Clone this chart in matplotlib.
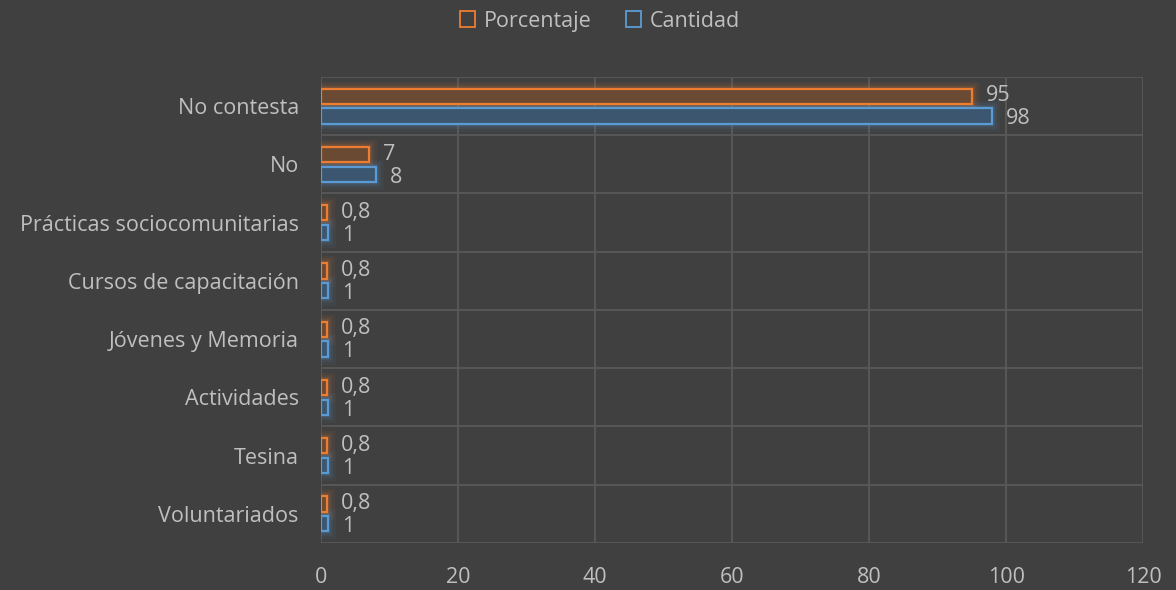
import matplotlib.pyplot as plt
import numpy as np
from matplotlib.patches import Patch

categorias = ["No contesta", "No", "Prácticas sociocomunitarias", "Cursos de capacitación",
              "Jóvenes y Memoria", "Actividades", "Tesina", "Voluntariados"]
porcentaje = [95, 7, 0.8, 0.8, 0.8, 0.8, 0.8, 0.8]
cantidad = [98, 8, 1, 1, 1, 1, 1, 1]
x_ticks = [0, 20, 40, 60, 80, 100, 120]

bg = "#404040"
txt = "#bfbfbf"
grid_c = "#595959"
naranja = "#ed7d31"
azul = "#5b9bd5"

plt.rcParams["font.family"] = ["Open Sans", "DejaVu Sans"]
fs = 15.5


def etiqueta(v):
    s = f"{v:g}"
    return s.replace(".", ",")


def barras(ax, y, vals, color, fill):
    # brillo alrededor de la barra
    for lw, a in [(11, 0.06), (7, 0.09), (4, 0.14)]:
        ax.barh(y, vals, height=0.26, facecolor="none", edgecolor=color,
                linewidth=lw, alpha=a, zorder=2)
    ax.barh(y, vals, height=0.26, facecolor=fill, edgecolor=color,
            linewidth=1.6, zorder=3)


fig = plt.figure(figsize=(11.76, 5.9), dpi=100, facecolor=bg)
ax = fig.add_axes([0.273, 0.0797, 0.699, 0.7898], facecolor=bg)

n = len(categorias)
y = np.arange(n)[::-1]
barras(ax, y + 0.17, porcentaje, naranja, "#6a4a33")
barras(ax, y - 0.17, cantidad, azul, "#3b566e")

for yi, v in zip(y, porcentaje):
    ax.annotate(etiqueta(v), (v, yi + 0.15), xytext=(10, 1), textcoords="offset points",
                color=txt, fontsize=fs, va="center", ha="left", zorder=4)
for yi, v in zip(y, cantidad):
    ax.annotate(etiqueta(v), (v, yi - 0.17), xytext=(10, -2), textcoords="offset points",
                color=txt, fontsize=fs, va="center", ha="left", zorder=4)

ax.set_xlim(0, 120)
ax.set_ylim(-0.5, n - 0.5)
ax.set_xticks(x_ticks)
ax.set_xticklabels([str(t) for t in x_ticks])
ax.set_yticks(y)
ax.set_yticklabels(categorias)
ax.set_yticks(np.arange(-0.5, n, 1.0), minor=True)
ax.tick_params(axis="both", which="both", length=0, colors=txt, labelsize=fs)
ax.tick_params(axis="x", pad=17)
ax.tick_params(axis="y", pad=16)
ax.grid(True, axis="x", color=grid_c, linewidth=1.3, zorder=0)
ax.grid(True, axis="y", which="minor", color=grid_c, linewidth=1.3, zorder=0)
ax.grid(False, axis="y", which="major")
for s in ax.spines.values():
    s.set_visible(False)
ax.set_axisbelow(True)

handles = [Patch(facecolor="none", edgecolor=naranja, linewidth=1.3, label="Porcentaje"),
           Patch(facecolor="none", edgecolor=azul, linewidth=1.3, label="Cantidad")]
leg = fig.legend(handles=handles, loc="upper center", bbox_to_anchor=(0.51, 1.015), ncol=2,
                 frameon=False, fontsize=fs, handlelength=0.7, handleheight=0.7,
                 handletextpad=0.4, columnspacing=1.6)
for t in leg.get_texts():
    t.set_color(txt)

fig.savefig("out.png", dpi=100, facecolor=bg)
